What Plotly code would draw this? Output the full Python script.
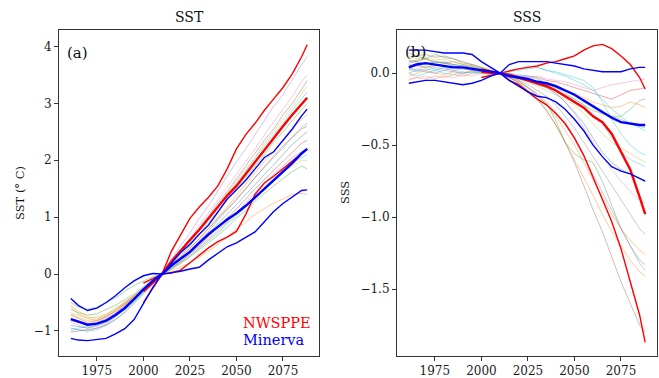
import plotly.graph_objects as go

# ---------------- data ----------------
YEARS = [1961, 1965, 1970, 1975, 1980, 1985, 1990, 1995, 2000, 2005, 2010, 2015, 2020,
         2025, 2030, 2035, 2040, 2045, 2050, 2055, 2060, 2065, 2070, 2075, 2080, 2085, 2088]
YEARS_PPE = [2000, 2005, 2010, 2015, 2020, 2025, 2030, 2035, 2040, 2045, 2050, 2055,
             2060, 2065, 2070, 2075, 2080, 2085, 2088]

# thin ensemble members, SST (°C anomaly)
sst_m01 = [-0.95,-0.98,-1.0,-0.95,-0.88,-0.75,-0.62,-0.45,-0.3,-0.14,0,0.25,0.5,0.72,0.98,1.2,1.45,1.72,1.98,2.2,2.45,2.7,2.95,3.15,3.42,3.68,3.82]
sst_m02 = [-0.85,-0.9,-0.95,-0.92,-0.85,-0.72,-0.6,-0.46,-0.3,-0.15,0,0.2,0.42,0.62,0.85,1.08,1.3,1.52,1.75,1.98,2.2,2.45,2.68,2.9,3.12,3.38,3.5]
sst_m03 = [-0.78,-0.82,-0.9,-0.86,-0.8,-0.7,-0.55,-0.42,-0.28,-0.12,0,0.18,0.38,0.6,0.8,1.02,1.25,1.45,1.68,1.9,2.12,2.35,2.55,2.8,3.0,3.25,3.4]
sst_m04 = [-0.7,-0.75,-0.82,-0.8,-0.72,-0.62,-0.5,-0.38,-0.25,-0.12,0,0.15,0.35,0.55,0.75,0.98,1.2,1.42,1.62,1.85,2.05,2.3,2.5,2.72,2.95,3.15,3.3]
sst_m05 = [-1.0,-0.95,-0.92,-0.9,-0.85,-0.75,-0.6,-0.48,-0.32,-0.16,0,0.18,0.38,0.55,0.78,0.95,1.18,1.38,1.6,1.8,2.02,2.25,2.45,2.65,2.88,3.08,3.2]
sst_m06 = [-0.5,-0.58,-0.62,-0.58,-0.5,-0.42,-0.3,-0.2,-0.12,-0.05,0,0.15,0.32,0.5,0.7,0.9,1.08,1.3,1.5,1.7,1.9,2.1,2.32,2.5,2.7,2.9,3.0]
sst_m07 = [-0.58,-0.7,-0.78,-0.82,-0.75,-0.65,-0.52,-0.4,-0.28,-0.14,0,0.14,0.28,0.45,0.62,0.8,1.0,1.18,1.38,1.58,1.78,1.98,2.15,2.35,2.55,2.72,2.8]
sst_m08 = [-0.82,-0.85,-0.88,-0.85,-0.78,-0.68,-0.55,-0.42,-0.28,-0.13,0,0.12,0.26,0.42,0.58,0.75,0.95,1.12,1.3,1.5,1.7,1.88,2.08,2.25,2.42,2.58,2.65]
sst_m09 = [-0.9,-0.92,-0.95,-0.9,-0.82,-0.7,-0.58,-0.45,-0.3,-0.15,0,0.12,0.25,0.4,0.55,0.72,0.88,1.05,1.22,1.4,1.58,1.75,1.92,2.1,2.28,2.42,2.5]
sst_m10 = [-0.72,-0.78,-0.85,-0.82,-0.75,-0.65,-0.52,-0.4,-0.26,-0.12,0,0.1,0.22,0.36,0.5,0.66,0.82,0.98,1.15,1.32,1.5,1.66,1.82,1.98,2.15,2.3,2.35]
sst_m11 = [-0.62,-0.68,-0.72,-0.7,-0.62,-0.55,-0.45,-0.35,-0.22,-0.1,0,0.08,0.18,0.3,0.42,0.55,0.68,0.82,0.98,1.12,1.28,1.42,1.55,1.68,1.8,1.9,1.85]
sst_m12 = [-0.55,-0.65,-0.75,-0.78,-0.72,-0.62,-0.5,-0.38,-0.25,-0.12,0,0.05,0.12,0.2,0.3,0.4,0.52,0.65,0.78,0.92,1.05,1.15,1.25,1.32,1.4,1.42,1.4]
sst_m13 = [-0.95,-0.98,-1.0,-0.98,-0.9,-0.8,-0.66,-0.5,-0.34,-0.17,0,0.1,0.2,0.32,0.45,0.58,0.72,0.88,1.02,1.18,1.35,1.52,1.68,1.82,1.95,2.05,2.1]
sst_m14 = [-0.8,-0.85,-0.9,-0.88,-0.8,-0.7,-0.56,-0.42,-0.28,-0.14,0,0.1,0.22,0.35,0.48,0.62,0.78,0.92,1.08,1.25,1.42,1.6,1.75,1.9,2.05,2.15,2.2]
sst_m15 = [-0.68,-0.72,-0.78,-0.75,-0.7,-0.6,-0.5,-0.38,-0.25,-0.12,0,0.1,0.2,0.32,0.45,0.6,0.75,0.9,1.05,1.2,1.35,1.5,1.65,1.8,1.9,2.0,2.0]
sst_m16 = [-1.02,-1.0,-0.97,-0.95,-0.9,-0.8,-0.68,-0.52,-0.35,-0.18,0,0.14,0.3,0.46,0.62,0.8,0.98,1.15,1.32,1.5,1.7,1.88,2.05,2.22,2.4,2.55,2.6]
SST_MODELS = [sst_m01, sst_m02, sst_m03, sst_m04, sst_m05, sst_m06, sst_m07, sst_m08,
              sst_m09, sst_m10, sst_m11, sst_m12, sst_m13, sst_m14, sst_m15, sst_m16]
SST_MODEL_COLORS = ["#9467bd", "#e377c2", "#8c564b", "#bcbd22", "#17becf", "#2ca02c", "#ff7f0e", "#7f7f7f",
                    "#1f77b4", "#d62728", "#2ca02c", "#ff7f0e", "#17becf", "#9467bd", "#bcbd22", "#8c564b"]

# Minerva SST (mean, and two bounding members)
sst_minerva_mean = [-0.79,-0.84,-0.89,-0.87,-0.82,-0.72,-0.6,-0.44,-0.27,-0.12,0,0.15,0.27,0.39,0.55,0.7,0.83,0.96,1.07,1.2,1.35,1.5,1.65,1.8,1.95,2.12,2.2]
sst_minerva_a = [-0.43,-0.55,-0.64,-0.6,-0.5,-0.38,-0.24,-0.12,-0.03,0.01,0,0.02,0.05,0.09,0.12,0.25,0.36,0.48,0.55,0.65,0.74,0.92,1.1,1.24,1.36,1.47,1.48]
sst_minerva_b = [-1.13,-1.16,-1.17,-1.15,-1.13,-1.05,-0.96,-0.8,-0.52,-0.24,0,0.2,0.38,0.52,0.7,0.86,1.1,1.32,1.48,1.65,1.85,2.05,2.15,2.35,2.55,2.78,2.9]
# NWSPPE SST
sst_ppe_mean = [-0.3,-0.15,0,0.22,0.42,0.6,0.78,0.98,1.18,1.38,1.55,1.76,1.98,2.2,2.4,2.6,2.8,2.98,3.1]
sst_ppe_hi = [-0.5,-0.25,0,0.4,0.7,0.98,1.18,1.35,1.55,1.85,2.2,2.45,2.65,2.88,3.08,3.28,3.52,3.82,4.03]
sst_ppe_lo = [-0.16,-0.08,0,0.02,0.07,0.2,0.33,0.46,0.57,0.65,0.75,1.05,1.4,1.6,1.72,1.85,1.98,2.12,2.2]

# thin ensemble members, SSS anomaly
sss_m01 = [0.02,0.03,0.02,0.04,0.03,0.02,0.03,0.02,0.01,0.0,0,-0.01,-0.02,-0.03,-0.02,-0.04,-0.05,-0.06,-0.08,-0.1,-0.12,-0.1,-0.08,-0.07,-0.06,-0.05,-0.04]
sss_m02 = [0.08,0.09,0.1,0.08,0.07,0.08,0.06,0.05,0.03,0.01,0,-0.01,-0.02,-0.02,-0.03,-0.05,-0.06,-0.08,-0.1,-0.12,-0.14,-0.16,-0.18,-0.15,-0.12,-0.11,-0.1]
sss_m03 = [0.1,0.12,0.1,0.13,0.11,0.1,0.07,0.06,0.04,0.02,0,-0.02,-0.03,-0.05,-0.07,-0.08,-0.1,-0.12,-0.15,-0.2,-0.24,-0.28,-0.3,-0.3,-0.25,-0.19,-0.18]
sss_m04 = [-0.02,0.0,0.02,0.0,-0.01,0.01,0.0,0.02,0.01,0.0,0,-0.02,-0.04,-0.05,-0.06,-0.08,-0.1,-0.12,-0.14,-0.17,-0.2,-0.22,-0.24,-0.23,-0.2,-0.22,-0.24]
sss_m05 = [0.05,0.06,0.04,0.05,0.07,0.05,0.04,0.03,0.02,0.01,0,-0.01,-0.03,-0.05,-0.07,-0.1,-0.12,-0.15,-0.18,-0.22,-0.26,-0.28,-0.3,-0.32,-0.35,-0.37,-0.38]
sss_m06 = [0.04,0.02,0.05,0.03,0.02,0.04,0.03,0.02,0.01,0.0,0,0.01,0.02,0.03,0.04,0.02,0.0,-0.02,-0.05,-0.08,-0.12,-0.18,-0.25,-0.3,-0.35,-0.38,-0.4]
sss_m07 = [0.0,-0.02,0.0,0.02,0.0,-0.01,0.0,0.01,0.0,-0.01,0,0.02,0.03,0.05,0.04,0.02,0.01,-0.01,-0.03,-0.05,-0.1,-0.2,-0.32,-0.42,-0.5,-0.55,-0.57]
sss_m08 = [0.12,0.1,0.11,0.09,0.1,0.08,0.06,0.05,0.03,0.01,0,-0.02,-0.04,-0.06,-0.09,-0.12,-0.15,-0.18,-0.22,-0.28,-0.35,-0.42,-0.48,-0.52,-0.56,-0.6,-0.62]
sss_m09 = [-0.04,-0.03,-0.02,-0.04,-0.02,-0.03,-0.01,-0.02,0.0,0.0,0,-0.02,-0.04,-0.06,-0.08,-0.1,-0.14,-0.2,-0.28,-0.38,-0.48,-0.58,-0.67,-0.75,-0.82,-0.88,-0.9]
sss_m10 = [0.06,0.05,0.07,0.06,0.04,0.05,0.04,0.02,0.02,0.01,0,-0.02,-0.05,-0.08,-0.12,-0.16,-0.22,-0.3,-0.38,-0.48,-0.58,-0.68,-0.78,-0.88,-0.98,-1.08,-1.12]
sss_m11 = [0.03,0.05,0.04,0.06,0.05,0.04,0.03,0.03,0.02,0.01,0,-0.03,-0.06,-0.1,-0.15,-0.22,-0.3,-0.4,-0.5,-0.62,-0.74,-0.86,-0.98,-1.08,-1.16,-1.23,-1.26]
sss_m12 = [0.09,0.08,0.1,0.07,0.08,0.06,0.05,0.04,0.03,0.01,0,-0.02,-0.05,-0.1,-0.16,-0.21,-0.33,-0.48,-0.56,-0.6,-0.62,-0.75,-0.92,-1.08,-1.2,-1.3,-1.33]
sss_m13 = [0.0,0.02,0.01,0.0,0.02,0.01,0.0,0.01,0.01,0.0,0,-0.03,-0.06,-0.1,-0.14,-0.2,-0.27,-0.36,-0.46,-0.58,-0.7,-0.82,-0.95,-1.08,-1.2,-1.32,-1.37]
sss_m14 = [-0.05,-0.03,-0.04,-0.02,-0.03,-0.01,-0.02,0.0,0.0,0.0,0,-0.03,-0.07,-0.12,-0.18,-0.26,-0.36,-0.48,-0.6,-0.72,-0.85,-0.98,-1.1,-1.2,-1.3,-1.38,-1.41]
sss_m15 = [0.14,0.12,0.13,0.11,0.12,0.1,0.08,0.06,0.04,0.02,0,-0.03,-0.07,-0.12,-0.18,-0.26,-0.36,-0.48,-0.62,-0.78,-0.95,-1.1,-1.28,-1.45,-1.6,-1.75,-1.8]
sss_m16 = [0.07,0.08,0.06,0.08,0.07,0.06,0.05,0.04,0.02,0.01,0,-0.01,-0.03,-0.05,-0.08,-0.1,-0.14,-0.2,-0.27,-0.35,-0.45,-0.55,-0.62,-0.67,-0.7,-0.73,-0.75]
sss_m17 = [0.03,0.01,0.03,0.02,0.04,0.02,0.01,0.0,0.01,0.0,0,0.0,-0.01,-0.02,-0.04,-0.07,-0.1,-0.14,-0.18,-0.22,-0.28,-0.35,-0.45,-0.55,-0.6,-0.63,-0.65]
SSS_MODELS = [sss_m01, sss_m02, sss_m03, sss_m04, sss_m05, sss_m06, sss_m07, sss_m08, sss_m09,
              sss_m10, sss_m11, sss_m12, sss_m13, sss_m14, sss_m15, sss_m16, sss_m17]
SSS_MODEL_COLORS = ["#e377c2", "#d62728", "#2ca02c", "#ff7f0e", "#7f7f7f", "#17becf", "#17becf", "#bcbd22", "#e377c2",
                    "#7f7f7f", "#ff7f0e", "#2ca02c", "#9467bd", "#ff7f0e", "#8c564b", "#1f77b4", "#17becf"]

sss_minerva_mean = [0.04,0.06,0.07,0.06,0.05,0.04,0.04,0.03,0.02,0.01,0,-0.02,-0.03,-0.04,-0.06,-0.07,-0.09,-0.12,-0.15,-0.19,-0.23,-0.27,-0.31,-0.34,-0.35,-0.36,-0.36]
sss_minerva_a = [0.16,0.16,0.16,0.15,0.14,0.14,0.14,0.13,0.08,0.04,0,-0.05,-0.09,-0.13,-0.16,-0.17,-0.2,-0.25,-0.32,-0.4,-0.5,-0.58,-0.65,-0.68,-0.7,-0.73,-0.75]
sss_minerva_b = [-0.07,-0.06,-0.05,-0.05,-0.06,-0.07,-0.08,-0.07,-0.05,-0.02,0,0.06,0.08,0.08,0.08,0.08,0.07,0.06,0.05,0.03,0.02,0.01,0.01,0.01,0.03,0.04,0.04]
sss_ppe_mean = [0.01,0.005,0,-0.01,-0.03,-0.05,-0.07,-0.09,-0.12,-0.16,-0.2,-0.24,-0.3,-0.34,-0.42,-0.55,-0.67,-0.86,-0.98]
sss_ppe_hi = [-0.03,-0.015,0,0.02,0.03,0.04,0.05,0.07,0.08,0.1,0.12,0.16,0.19,0.2,0.17,0.12,0.06,-0.03,-0.11]
sss_ppe_lo = [0.03,0.015,0,-0.05,-0.08,-0.13,-0.18,-0.22,-0.28,-0.35,-0.45,-0.57,-0.72,-0.88,-1.03,-1.22,-1.45,-1.68,-1.87]

SST_TICKS = [-1, 0, 1, 2, 3, 4]
SST_TICKTEXT = ["\u22121", "0", "1", "2", "3", "4"]
SSS_TICKS = [0.0, -0.5, -1.0, -1.5]
SSS_TICKTEXT = ["0.0", "\u22120.5", "\u22121.0", "\u22121.5"]
X_TICKS = [1975, 2000, 2025, 2050, 2075]

# ---------------- figure ----------------
FONT = "DejaVu Serif"
fig = go.Figure()


def hexa(c, a):
    c = c.lstrip("#")
    return "rgba(%d,%d,%d,%.2f)" % (int(c[0:2], 16), int(c[2:4], 16), int(c[4:6], 16), a)


def add_panel(models, colors, mean_m, a_m, b_m, mean_p, hi_p, lo_p, xa, ya):
    for vals, col in zip(models, colors):
        fig.add_trace(go.Scatter(x=YEARS, y=vals, mode="lines", xaxis=xa, yaxis=ya,
                                 line=dict(color=hexa(col, 0.45), width=0.9), showlegend=False,
                                 hoverinfo="skip"))
    for vals, w in [(hi_p, 1.4), (lo_p, 1.4), (mean_p, 2.4)]:
        fig.add_trace(go.Scatter(x=YEARS_PPE, y=vals, mode="lines", xaxis=xa, yaxis=ya,
                                 line=dict(color="#ff0000", width=w), showlegend=False))
    for vals, w in [(a_m, 1.4), (b_m, 1.4), (mean_m, 2.4)]:
        fig.add_trace(go.Scatter(x=YEARS, y=vals, mode="lines", xaxis=xa, yaxis=ya,
                                 line=dict(color="#0000ff", width=w), showlegend=False))


add_panel(SST_MODELS, SST_MODEL_COLORS, sst_minerva_mean, sst_minerva_a, sst_minerva_b,
          sst_ppe_mean, sst_ppe_hi, sst_ppe_lo, "x", "y")
add_panel(SSS_MODELS, SSS_MODEL_COLORS, sss_minerva_mean, sss_minerva_a, sss_minerva_b,
          sss_ppe_mean, sss_ppe_hi, sss_ppe_lo, "x2", "y2")

W, H = 659, 378
ydom = [22 / H, 348 / H]
axis_common = dict(showline=True, mirror=True, linecolor="#333333", linewidth=1.1,
                   ticks="outside", ticklen=4, tickwidth=1, tickcolor="#333333",
                   showgrid=False, zeroline=False, automargin=False,
                   tickfont=dict(family=FONT, size=12, color="#1a1a1a"))

fig.update_layout(
    width=W, height=H, margin=dict(l=0, r=0, t=0, b=0),
    paper_bgcolor="white", plot_bgcolor="white", showlegend=False,
    xaxis=dict(domain=[59 / W, 319 / W], range=[1954.65, 2094.35], tickvals=X_TICKS, anchor="y", **axis_common),
    yaxis=dict(domain=ydom, range=[-1.44, 4.29], tickvals=SST_TICKS, ticktext=SST_TICKTEXT, anchor="x", **axis_common),
    xaxis2=dict(domain=[397 / W, 657 / W], range=[1954.65, 2094.35], tickvals=X_TICKS, anchor="y2", **axis_common),
    yaxis2=dict(domain=ydom, range=[-1.965, 0.30], tickvals=SSS_TICKS, ticktext=SSS_TICKTEXT, anchor="x2", **axis_common),
)

ann = [
    dict(text="SST", x=189 / W, y=1 - 17 / H, font=dict(size=14)),
    dict(text="SSS", x=527 / W, y=1 - 17 / H, font=dict(size=14)),
    dict(text="SST (° C)", x=20 / W, y=1 - 193 / H, textangle=-90, font=dict(size=11.5)),
    dict(text="SSS", x=345 / W, y=1 - 193 / H, textangle=-90, font=dict(size=11.5)),
    dict(text="(a)", x=77 / W, y=1 - 53 / H, font=dict(size=15)),
    dict(text="(b)", x=415 / W, y=1 - 52 / H, font=dict(size=15)),
    dict(text="NWSPPE", x=241 / W, y=1 - 323 / H, xanchor="left", font=dict(size=14.5, color="#ff0000")),
    dict(text="Minerva", x=241 / W, y=1 - 340 / H, xanchor="left", font=dict(size=14.5, color="#0000ff")),
]
for a in ann:
    a.setdefault("xanchor", "center")
    f = a["font"]
    f.setdefault("color", "#111111")
    f["family"] = FONT
    fig.add_annotation(xref="paper", yref="paper", yanchor="middle", showarrow=False, **a)

fig.write_html("out.html")
